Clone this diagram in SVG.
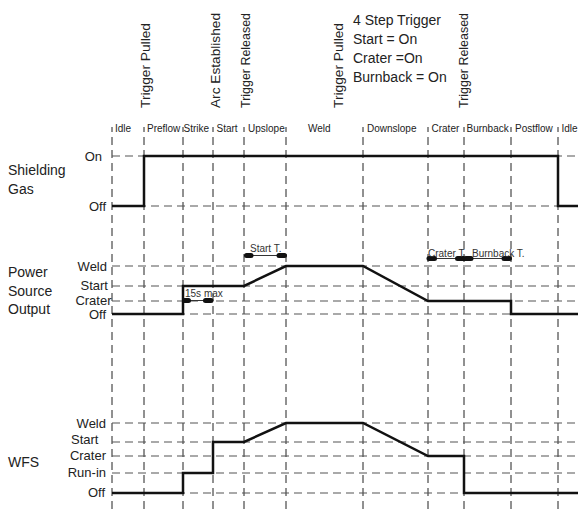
<svg xmlns="http://www.w3.org/2000/svg" width="578" height="512" viewBox="0 0 578 512">
<style>
text{font-family:"Liberation Sans",Arial,sans-serif;fill:#222}
.lbl{font-size:14px}
.lvl{font-size:13px;text-anchor:end}
.ph{font-size:10px}
.ev{font-size:13px}
.info{font-size:14px}
.tm{font-size:10px;fill:#333}
.vg{stroke:#222;stroke-width:1;stroke-dasharray:8 5;stroke-dashoffset:3;fill:none}
.hg{stroke:#555;stroke-width:1.2;stroke-dasharray:8 5;fill:none}
.sig{stroke:#111;stroke-width:2.5;fill:none;stroke-linejoin:miter}
.blob{stroke:#111;stroke-width:5;stroke-linecap:round}
.thin{stroke:#333;stroke-width:1}
</style>
<rect width="578" height="512" fill="#fff"/>
<g id="grid-vertical">
<line class="vg" x1="112" y1="127" x2="112" y2="512"/>
<line class="vg" x1="144" y1="127" x2="144" y2="512"/>
<line class="vg" x1="183" y1="127" x2="183" y2="512"/>
<line class="vg" x1="213" y1="127" x2="213" y2="512"/>
<line class="vg" x1="244" y1="127" x2="244" y2="512"/>
<line class="vg" x1="286" y1="127" x2="286" y2="512"/>
<line class="vg" x1="363" y1="127" x2="363" y2="512"/>
<line class="vg" x1="428" y1="127" x2="428" y2="512"/>
<line class="vg" x1="464" y1="127" x2="464" y2="512"/>
<line class="vg" x1="511" y1="127" x2="511" y2="512"/>
<line class="vg" x1="558" y1="127" x2="558" y2="512"/>
</g>
<g id="grid-horizontal">
<line class="hg" x1="112" y1="156" x2="578" y2="156"/>
<line class="hg" x1="112" y1="206" x2="578" y2="206"/>
<line class="hg" x1="112" y1="266" x2="578" y2="266"/>
<line class="hg" x1="112" y1="286" x2="578" y2="286"/>
<line class="hg" x1="112" y1="301" x2="578" y2="301"/>
<line class="hg" x1="112" y1="314" x2="578" y2="314"/>
<line class="hg" x1="112" y1="423" x2="578" y2="423"/>
<line class="hg" x1="112" y1="442" x2="578" y2="442"/>
<line class="hg" x1="112" y1="456" x2="578" y2="456"/>
<line class="hg" x1="112" y1="473" x2="578" y2="473"/>
<line class="hg" x1="112" y1="493" x2="578" y2="493"/>
</g>
<g id="events">
<text class="ev" transform="translate(149.5,108) rotate(-90)" textLength="85" lengthAdjust="spacingAndGlyphs">Trigger Pulled</text>
<text class="ev" transform="translate(219.5,108) rotate(-90)" textLength="95" lengthAdjust="spacingAndGlyphs">Arc Established</text>
<text class="ev" transform="translate(249.5,108) rotate(-90)" textLength="95" lengthAdjust="spacingAndGlyphs">Trigger Released</text>
<text class="ev" transform="translate(342.5,108) rotate(-90)" textLength="85" lengthAdjust="spacingAndGlyphs">Trigger Pulled</text>
<text class="ev" transform="translate(467.5,108) rotate(-90)" textLength="95" lengthAdjust="spacingAndGlyphs">Trigger Released</text>
</g>
<g id="info">
<text class="info" x="353" y="25">4 Step Trigger</text>
<text class="info" x="353" y="44">Start = On</text>
<text class="info" x="353" y="63">Crater =On</text>
<text class="info" x="353" y="82">Burnback = On</text>
</g>
<g id="phases">
<text class="ph" x="115" y="132">Idle</text>
<text class="ph" x="147" y="132">Preflow</text>
<text class="ph" x="183.5" y="132">Strike</text>
<text class="ph" x="216.5" y="132">Start</text>
<text class="ph" x="248" y="132">Upslope</text>
<text class="ph" x="308" y="132">Weld</text>
<text class="ph" x="367" y="132">Downslope</text>
<text class="ph" x="431.5" y="132">Crater</text>
<text class="ph" x="466.5" y="132">Burnback</text>
<text class="ph" x="515" y="132">Postflow</text>
<text class="ph" x="561.5" y="132">Idle</text>
</g>
<g id="shielding-gas">
<text class="lbl" x="8" y="175">Shielding</text>
<text class="lbl" x="8" y="193.5">Gas</text>
<text class="lvl" x="102" y="160.5">On</text>
<text class="lvl" x="106" y="210.5">Off</text>
<polyline class="sig" points="112,206 144,206 144,156 558,156 558,206 578,206"/>
</g>
<g id="power-source-output">
<text class="lbl" x="8" y="277">Power</text>
<text class="lbl" x="8" y="295.5">Source</text>
<text class="lbl" x="8" y="314">Output</text>
<text class="lvl" x="107" y="270.5">Weld</text>
<text class="lvl" x="108" y="290">Start</text>
<text class="lvl" x="111.5" y="305">Crater</text>
<text class="lvl" x="106" y="319">Off</text>
<polyline class="sig" points="112,314 183,314 183,286 244,286 286,266 363,266 428,301 511,301 511,314 578,314"/>
</g>
<g id="timers">
<line class="thin" x1="183" y1="300.5" x2="213" y2="300.5"/>
<line class="blob" x1="184.5" y1="300.5" x2="188.5" y2="300.5"/>
<line class="blob" x1="205.5" y1="300.5" x2="211" y2="300.5"/>
<text class="tm" x="185" y="297">15s max</text>
<line class="thin" x1="244" y1="255.5" x2="286" y2="255.5"/>
<line class="blob" x1="246.5" y1="255.5" x2="251" y2="255.5"/>
<line class="blob" x1="279" y1="255.5" x2="284.5" y2="255.5"/>
<text class="tm" x="250" y="252">Start T.</text>
<line class="thin" x1="428" y1="258.5" x2="511" y2="258.5"/>
<line class="blob" x1="429" y1="258.5" x2="434.5" y2="258.5"/>
<line class="blob" x1="457.5" y1="258.5" x2="471" y2="258.5"/>
<line class="blob" x1="504" y1="258.5" x2="509.5" y2="258.5"/>
<text class="tm" x="428" y="257">Crater T.</text>
<text class="tm" x="472" y="257">Burnback T.</text>
</g>
<g id="wfs">
<text class="lbl" x="8" y="467">WFS</text>
<text class="lvl" x="106" y="427.5">Weld</text>
<text class="lvl" x="98.5" y="444">Start</text>
<text class="lvl" x="106" y="459.5">Crater</text>
<text class="lvl" x="106" y="477">Run-in</text>
<text class="lvl" x="105" y="497">Off</text>
<polyline class="sig" points="112,493 183,493 183,473 213,473 213,442 244,442 286,423 363,423 428,456 464,456 464,493 578,493"/>
</g>
</svg>
